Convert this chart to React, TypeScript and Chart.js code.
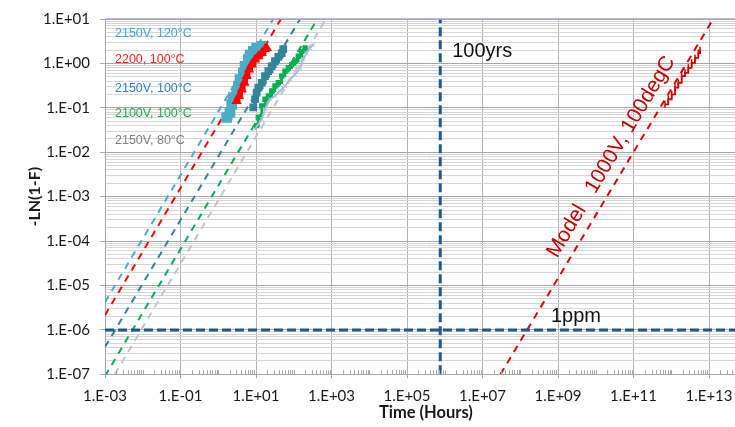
import React, { useEffect, useRef } from 'react';
import { Chart, registerables } from 'chart.js';
Chart.register(...registerables);

// ---------- data ----------
const xTickValues = [1e-3, 1e-1, 1e1, 1e3, 1e5, 1e7, 1e9, 1e11, 1e13];
const yDecades = [-7, -6, -5, -4, -3, -2, -1, 0];

const legendLabels = ['2150V, 120°C', '2200, 100°C', '2150V, 100°C', '2100V, 100°C', '2150V, 80°C'];
const legendColors = ['#3fa2d6', '#ff2020', '#2c82c9', '#20b050', '#808080'];

// measured data (stepped)
const s120X = [1.67, 2.05, 2.27, 2.51, 3.08, 3.40, 3.77, 4.61, 5.12, 6.25, 6.93, 8.49, 10.4, 14.2];
const s120Y = [0.0607, 0.0785, 0.120, 0.170, 0.220, 0.310, 0.435, 0.614, 0.865, 1.22, 1.57, 1.87, 2.22, 2.42];

const s2200X = [3.08, 3.55, 4.18, 4.90, 5.68, 6.53, 7.69, 9.42, 11.5, 14.2, 17.3, 19.2];
const s2200Y = [0.143, 0.185, 0.260, 0.367, 0.518, 0.728, 0.940, 1.22, 1.45, 1.71, 2.11, 2.22];

const s2150X = [8.47, 9.42, 10.4, 11.5, 14.2, 17.3, 21.2, 26.1, 31.8, 39.0, 48.0, 52.8];
const s2150Y = [0.102, 0.156, 0.220, 0.284, 0.367, 0.518, 0.670, 0.866, 1.12, 1.40, 1.71, 2.11];

const s2100X = [10.4, 11.5, 14.2, 17.3, 21.2, 26.1, 31.8, 39.0, 48.0, 58.6, 71.8, 88.3, 108, 132, 163, 199];
const s2100Y = [0.0396, 0.0607, 0.111, 0.156, 0.185, 0.239, 0.310, 0.367, 0.518, 0.670, 0.794, 0.940, 1.12, 1.45, 1.87, 2.22];

const s80X = [9.42, 14.2, 17.3, 23.5, 31.8, 43.3, 58.6, 79.6, 108, 147, 179, 220, 269, 330];
const s80Y = [0.0333, 0.0557, 0.0931, 0.156, 0.185, 0.239, 0.310, 0.435, 0.562, 0.794, 1.22, 1.71, 2.22, 2.63];

const modelDataX = [6.82e11, 8.36e11, 1.03e12, 1.26e12, 1.54e12, 1.89e12, 2.31e12, 2.83e12, 3.48e12, 4.26e12, 5.21e12, 5.78e12];
const modelDataY = [0.120, 0.156, 0.201, 0.284, 0.367, 0.518, 0.614, 0.794, 1.03, 1.33, 1.71, 1.97];

// fitted (dashed) lines: endpoints
const fit120X = [1e-3, 28.8];
const fit120Y = [4.2e-6, 10];
const fit2200X = [1e-3, 45.9];
const fit2200Y = [2.15e-6, 10];
const fit2150X = [1e-3, 147];
const fit2150Y = [4.1e-7, 10];
const fit2100X = [1e-3, 421];
const fit2100Y = [9.1e-8, 10];
const fit80X = [1.82e-3, 714];
const fit80Y = [1e-7, 10];
const modelX = [3.0e7, 1.29e13];
const modelY = [1e-7, 10];

// reference lines
const hundredYears = 7.6e5;
const onePpm = 1e-6;

const modelLabel = 'Model   1000V, 100degC';
const modelLabelAtY = 3.0e-5; // where the label starts alongside the model line

// ---------- helpers ----------
const pts = (xs: number[], ys: number[]) => xs.map((x, i) => ({ x, y: ys[i] }));
const isPow10 = (v: number) => Math.abs(Math.log10(v) - Math.round(Math.log10(v))) < 1e-6;
const fmtE = (v: number) => {
  const e = Math.round(Math.log10(v));
  return '1.E' + (e < 0 ? '-' : '+') + String(Math.abs(e)).padStart(2, '0');
};

export default function App() {
  const ref = useRef<HTMLCanvasElement>(null);
  useEffect(() => {
    const canvas = ref.current!;
    const yTicks: number[] = [];
    for (const d of yDecades) for (let m = 1; m <= 9; m++) yTicks.push(m * Math.pow(10, d));
    yTicks.push(10);

    const fit = (xs: number[], ys: number[], color: string) => ({
      data: pts(xs, ys), showLine: true, pointRadius: 0, borderColor: color, borderWidth: 2,
      borderDash: [7, 6], order: 3,
    });

    const annot = {
      id: 'annot',
      afterDraw(chart: any) {
        const { ctx, chartArea: a, scales: { x, y } } = chart;
        ctx.save();
        // minor x ticks at bottom
        ctx.strokeStyle = '#a6a6a6';
        ctx.lineWidth = 1;
        ctx.beginPath();
        for (let d = -3; d < 14; d++) {
          for (let m = 1; m <= 9; m++) {
            if (m === 1 && Math.abs(d) % 2 === 1) continue;
            const px = Math.round(x.getPixelForValue(m * Math.pow(10, d))) + 0.5;
            if (px > a.right) continue;
            ctx.moveTo(px, a.bottom);
            ctx.lineTo(px, a.bottom - 4);
          }
        }
        ctx.stroke();
        // purple top line
        ctx.strokeStyle = '#ab9edb';
        ctx.lineWidth = 1.5;
        ctx.beginPath();
        ctx.moveTo(a.left, a.top);
        ctx.lineTo(a.right, a.top);
        ctx.stroke();
        // legend labels
        ctx.font = '12.5px "Liberation Sans", Arial, sans-serif';
        ctx.textBaseline = 'middle';
        ctx.textAlign = 'left';
        const offs = [15, 41, 69.3, 94.3, 121.6];
        legendLabels.forEach((t, i) => {
          ctx.fillStyle = legendColors[i];
          ctx.fillText(t, a.left + 10, a.top + offs[i]);
        });
        // 100yrs / 1ppm
        ctx.font = '20px "Liberation Sans", Arial, sans-serif';
        ctx.textBaseline = 'alphabetic';
        ctx.fillStyle = '#111';
        ctx.fillText('100yrs', x.getPixelForValue(hundredYears) + 12, a.top + 37.5);
        ctx.fillText('1ppm', a.left + 446, y.getPixelForValue(onePpm) - 8);
        // model label, parallel to the model line
        const x1 = x.getPixelForValue(modelX[0]), y1 = y.getPixelForValue(modelY[0]);
        const x2 = x.getPixelForValue(modelX[1]), y2 = y.getPixelForValue(modelY[1]);
        const ang = Math.atan2(y2 - y1, x2 - x1);
        const t = Math.log10(modelLabelAtY);
        const frac = (t - Math.log10(modelY[0])) / (Math.log10(modelY[1]) - Math.log10(modelY[0]));
        const bx = x1 + (x2 - x1) * frac, by = y1 + (y2 - y1) * frac;
        const gap = 11;
        const ux = Math.sin(ang), uy = -Math.cos(ang); // perpendicular (toward text top)
        ctx.save();
        ctx.translate(bx + ux * gap, by + uy * gap);
        ctx.rotate(ang);
        ctx.font = '21px "Liberation Sans", Arial, sans-serif';
        ctx.fillStyle = '#c00000';
        ctx.textAlign = 'left';
        ctx.fillText(modelLabel, 0, 0);
        ctx.restore();
        ctx.restore();
      },
    };

    const chart = new Chart(canvas, {
      type: 'scatter',
      data: {
        datasets: [
          // measured data
          { data: pts(s80X, s80Y), showLine: true, borderColor: '#b0b8de', backgroundColor: '#b0b8de', borderWidth: 2,
            pointStyle: 'crossRot', pointRadius: 3, pointBorderWidth: 1, order: 1 },
          { data: pts(s2100X, s2100Y), showLine: true, borderColor: '#00b050', backgroundColor: '#00b050', borderWidth: 2.5,
            pointStyle: 'rect', pointRadius: 2, stepped: 'before', order: 1 },
          { data: pts(s2150X, s2150Y), showLine: true, borderColor: '#31849b', backgroundColor: '#31849b', borderWidth: 3.5,
            pointStyle: 'rect', pointRadius: 3, stepped: 'before', order: 1 },
          { data: pts(s120X, s120Y), showLine: true, borderColor: '#4bacc6', backgroundColor: '#4bacc6', borderWidth: 5,
            pointStyle: 'rect', pointRadius: 4, stepped: 'before', order: 1 },
          { data: pts(s2200X, s2200Y), showLine: true, borderColor: '#ff0000', backgroundColor: '#ff0000', borderWidth: 2.5,
            pointStyle: 'triangle', pointRadius: 3.5, stepped: 'before', order: 0 },
          { data: pts(modelDataX, modelDataY), showLine: true, borderColor: '#d00000', backgroundColor: '#d00000', borderWidth: 1.8,
            pointStyle: 'line', rotation: 90, pointRadius: 3.5, pointBorderWidth: 1.5, stepped: 'before', order: 0 },
          // fits
          fit(fit120X, fit120Y, '#4bacc6'),
          fit(fit2200X, fit2200Y, '#ff0000'),
          fit(fit2150X, fit2150Y, '#31849b'),
          fit(fit2100X, fit2100Y, '#00b050'),
          fit(fit80X, fit80Y, '#c4c4c4'),
          fit(modelX, modelY, '#e00000'),
          // reference lines
          { data: [{ x: hundredYears, y: 1e-7 }, { x: hundredYears, y: 10 }], showLine: true, pointRadius: 0,
            borderColor: '#1d5a8c', borderWidth: 3, borderDash: [9, 4], order: 2 },
          { data: [{ x: 1e-3, y: onePpm }, { x: 1e14, y: onePpm }], showLine: true, pointRadius: 0,
            borderColor: '#1d5a8c', borderWidth: 3, borderDash: [9, 4], order: 2 },
        ],
      },
      options: {
        responsive: false,
        animation: false,
        devicePixelRatio: 1,
        layout: { padding: { left: 0, right: 13.25, top: 15.7, bottom: 0 } },
        plugins: { legend: { display: false }, tooltip: { enabled: false } },
        scales: {
          x: {
            type: 'logarithmic',
            min: 1e-3,
            max: 1e14,
            afterBuildTicks: (s: any) => { s.ticks = xTickValues.map((v) => ({ value: v })); },
            afterFit: (s: any) => { s.height = 52.7; },
            grid: { color: '#b3b3b3', tickColor: '#a6a6a6', tickLength: 4, lineWidth: 1 },
            border: { color: '#a6a6a6' },
            ticks: {
              autoSkip: false, maxRotation: 0, padding: 9,
              font: { family: 'Lato', size: 15 }, color: '#1a1a1a',
              callback: (v: any) => fmtE(Number(v)),
            },
            title: {
              display: true, text: 'Time (Hours)', color: '#1a1a1a',
              font: { family: 'Lato', size: 16.5, weight: 'bold' }, padding: { top: 0, bottom: 4 },
            },
          },
          y: {
            type: 'logarithmic',
            min: 1e-7,
            max: 10,
            afterBuildTicks: (s: any) => { s.ticks = yTicks.map((v) => ({ value: v })); },
            afterFit: (s: any) => { s.width = 105; },
            grid: {
              color: (c: any) => (isPow10(c.tick.value) ? '#a6a6a6' : '#d6d6d6'),
              tickColor: (c: any) => (isPow10(c.tick.value) ? '#a6a6a6' : 'rgba(0,0,0,0)'),
              tickLength: 5, lineWidth: 1,
            },
            border: { color: '#a6a6a6' },
            ticks: {
              autoSkip: false, padding: 10,
              font: { family: 'Lato', size: 15 }, color: '#1a1a1a',
              callback: (v: any) => (isPow10(Number(v)) ? fmtE(Number(v)) : ''),
            },
            title: {
              display: true, text: '-LN(1-F)', color: '#1a1a1a',
              font: { family: 'Lato', size: 16, weight: 'bold' }, padding: { top: 25.4, bottom: 0 },
            },
          },
        },
      },
      plugins: [annot],
    } as any);
    return () => chart.destroy();
  }, []);

  return (
    <div style={{ position: 'fixed', left: 0, top: 0, width: 735, height: 427, overflow: 'hidden', background: '#fff' }}>
      <canvas ref={ref} width={760} height={427} style={{ display: 'block' }} />
    </div>
  );
}
